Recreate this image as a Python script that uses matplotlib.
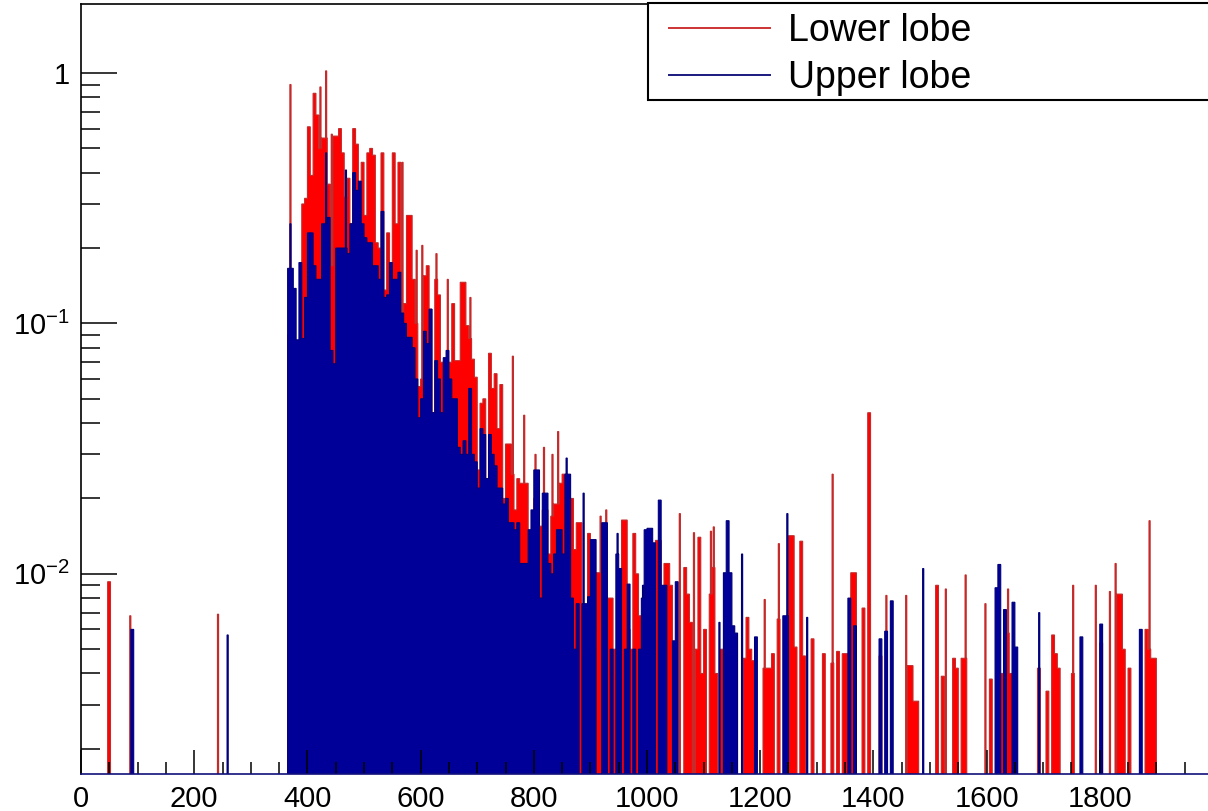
import numpy as np
import matplotlib
matplotlib.use("Agg")
import matplotlib.pyplot as plt
from matplotlib.lines import Line2D
from matplotlib.patches import Rectangle
from matplotlib.ticker import LogLocator, FuncFormatter, MultipleLocator

plt.rcParams['font.family'] = ['Liberation Sans', 'DejaVu Sans']
plt.rcParams['mathtext.fontset'] = 'custom'
plt.rcParams['mathtext.rm'] = 'Liberation Sans'
plt.rcParams['mathtext.default'] = 'regular'

# 5-unit bins starting at x = 365 (the dense part of both lobes)
dense_start = 365
red_dense = [0.09, 0.08, 0.06, 0.05, 0.08, 0.30, 0.316, 0.61, 0.39, 0.83,
             0.68, 0.50, 0.55, 0.55, 0.36, 0.17, 0.56, 0.56, 0.60, 0.48,
             0.32, 0.38, 0.25, 0.60, 0.52, 0.20, 0.44, 0.27, 0.48, 0.50,
             0.47, 0.21, 0.20, 0.48, 0.136, 0.23, 0.14, 0.48, 0.25, 0.44,
             0.11, 0.12, 0.27, 0.27, 0.15, 0.10, 0.056, 0.06, 0.155, 0.17,
             0.114, 0.044, 0.15, 0.13, 0.07, 0.07, 0.06, 0.07, 0.12, 0.071,
             0.071, 0.146, 0.146, 0.098, 0.087, 0.072, 0.061, 0.026, 0.048, 0.05,
             0.024, 0.076, 0.055, 0.063, 0.038, 0.057, 0.02, 0.033, 0.033, 0.025,
             0.018, 0.024, 0.023, 0.023, 0.023, 0.01, 0.01, 0.02, 0.0155, 0.0155,
             0.018, 0.018, 0.012, 0.017, 0.019, 0.019, 0.023, 0.025, 0.025, 0.02,
             0.02, 0.0125, 0.016, 0.016, 0.007, 0.006, 0.0145, 0.005, 0.006, 0.0101,
             0.0101, 0.005, 0.006, 0.008, 0.008, 0.005, 0.004, 0.005, 0.0164, 0.0164,
             0.006, 0.005, 0.0145, 0.01, 0.0068, 0.0067]
blue_dense = [0.166, 0.166, 0.138, 0.086, 0.175, 0.087, 0.127, 0.23, 0.23, 0.17,
              0.15, 0.15, 0.25, 0.25, 0.265, 0.078, 0.069, 0.20, 0.20, 0.20,
              0.20, 0.19, 0.25, 0.40, 0.34, 0.37, 0.25, 0.22, 0.21, 0.21,
              0.17, 0.17, 0.15, 0.28, 0.127, 0.13, 0.175, 0.15, 0.15, 0.16,
              0.11, 0.10, 0.088, 0.088, 0.08, 0.06, 0.042, 0.05, 0.093, 0.083,
              0.114, 0.044, 0.071, 0.06, 0.044, 0.073, 0.078, 0.06, 0.05, 0.05,
              0.032, 0.03, 0.034, 0.03, 0.055, 0.03, 0.028, 0.022, 0.038, 0.036,
              0.024, 0.036, 0.03, 0.027, 0.022, 0.022, 0.019, 0.02, 0.016, 0.016,
              0.015, 0.016, 0.011, 0.011, 0.011, 0.015, 0.018, 0.026, 0.026, 0.008,
              0.021, 0.021, 0.011, 0.010, 0.012, 0.015, 0.015, 0.012, 0.025, 0.025,
              0.008, 0.005, 0.0076, 0.0, 0.0076, 0.0076, 0.0081, 0.0137, 0.0137, 0.0,
              0.0, 0.016, 0.016, 0.0, 0.005, 0.0, 0.012, 0.0105, 0.0, 0.005,
              0.0091, 0.0, 0.005, 0.0, 0.005, 0.008]

# sparse 5-unit bins (left edge, content)
red_tail = [(47, 0.0093), (1000, 0.004), (1015, 0.0136), (1020, 0.0136), (1025, 0.006),
            (1030, 0.011), (1035, 0.011), (1040, 0.009), (1045, 0.004), (1065, 0.0106),
            (1070, 0.0083), (1075, 0.0064), (1085, 0.005), (1090, 0.014), (1095, 0.004),
            (1100, 0.006), (1110, 0.0083), (1115, 0.0106), (1120, 0.004), (1130, 0.005),
            (1145, 0.004), (1170, 0.0046), (1175, 0.0067), (1180, 0.005), (1185, 0.0045),
            (1205, 0.0042), (1210, 0.0042), (1215, 0.0042), (1220, 0.0048), (1230, 0.0066),
            (1250, 0.0142), (1255, 0.0142), (1260, 0.0051), (1270, 0.0135), (1275, 0.0047),
            (1290, 0.0055), (1310, 0.0048), (1325, 0.0044), (1335, 0.0049), (1345, 0.0048),
            (1350, 0.0048), (1360, 0.0101), (1365, 0.0101), (1380, 0.0073), (1390, 0.044),
            (1410, 0.0047), (1460, 0.0043), (1465, 0.0043), (1470, 0.0031), (1475, 0.0031),
            (1510, 0.009), (1520, 0.0039), (1540, 0.0046), (1545, 0.0042), (1555, 0.0046),
            (1560, 0.0046), (1605, 0.0038), (1625, 0.004), (1635, 0.0058), (1640, 0.004),
            (1690, 0.0042), (1705, 0.0034), (1715, 0.0057), (1720, 0.0048), (1725, 0.0042),
            (1750, 0.004), (1800, 0.0053), (1830, 0.0083), (1835, 0.0083), (1840, 0.005),
            (1850, 0.0042), (1880, 0.006), (1885, 0.005), (1890, 0.0046), (1895, 0.0046)]
blue_tail = [(88, 0.006), (995, 0.015), (1000, 0.0152), (1005, 0.0152), (1010, 0.0133),
             (1020, 0.0197), (1025, 0.009), (1030, 0.009), (1045, 0.0054), (1050, 0.0093),
             (1135, 0.0101), (1140, 0.0163), (1145, 0.0101), (1150, 0.0062), (1155, 0.0058),
             (1190, 0.0056), (1240, 0.0068), (1245, 0.0068), (1355, 0.008), (1365, 0.0062),
             (1410, 0.0055), (1420, 0.0059), (1430, 0.0078), (1615, 0.0088), (1620, 0.0109),
             (1630, 0.0072), (1645, 0.0077), (1650, 0.0051), (1765, 0.0056), (1800, 0.0063),
             (1870, 0.006)]

# single narrow bins (2 units)
red_spikes = [(86, 0.0068), (241, 0.0069), (369, 0.90), (422, 0.88), (432, 1.02),
              (442, 0.57), (567, 0.44), (592, 0.196), (602, 0.205), (627, 0.19),
              (647, 0.15), (687, 0.127), (762, 0.074), (782, 0.043), (802, 0.03),
              (817, 0.032), (832, 0.03), (842, 0.037), (917, 0.017), (927, 0.018),
              (1057, 0.0174), (1082, 0.0146), (1112, 0.0148), (1117, 0.0154), (1207, 0.0079),
              (1232, 0.0132), (1327, 0.025), (1422, 0.0082), (1457, 0.0082), (1527, 0.0087),
              (1562, 0.0099), (1597, 0.0076), (1637, 0.0087), (1752, 0.009), (1792, 0.009),
              (1817, 0.0085), (1827, 0.011), (1887, 0.0163)]
blue_spikes = [(258, 0.0057), (369, 0.25), (432, 0.48), (467, 0.41), (857, 0.029),
               (887, 0.021), (947, 0.0145), (992, 0.009), (1127, 0.0064), (1167, 0.012),
               (1247, 0.0174), (1282, 0.0067), (1487, 0.0105), (1692, 0.007)]


def build_hist(dense, tail, spikes):
    h = np.zeros(2000)
    for k, v in enumerate(dense):
        a = dense_start + 5 * k
        h[a:a + 5] = v
    for u, v in tail:
        h[u:u + 5] = np.maximum(h[u:u + 5], v)
    for u, v in spikes:
        h[u:u + 2] = np.maximum(h[u:u + 2], v)
    # empty bins go below the log axis
    return np.where(h > 0, h, 1e-6)


edges = np.arange(0, 2001)
h_low = build_hist(red_dense, red_tail, red_spikes)
h_up = build_hist(blue_dense, blue_tail, blue_spikes)

fig = plt.figure(figsize=(12.08, 8.11), dpi=100)
ax = fig.add_axes([0.0671, 0.0456, 0.937, 0.9494])

ax.stairs(h_low, edges, baseline=1e-6, fill=True, color='#ff0000', lw=0)
ax.stairs(h_low, edges, baseline=1e-6, color='#c42b2b', lw=0.8)
ax.stairs(h_up, edges, baseline=1e-6, fill=True, color='#000099', lw=0)
ax.stairs(h_up, edges, baseline=1e-6, color='#00007a', lw=0.8)

ax.set_yscale('log')
ax.set_xlim(0, 2000)
ax.set_ylim(0.001587, 1.886)

ax.set_xticks(np.arange(0, 1801, 200))
ax.xaxis.set_minor_locator(MultipleLocator(50))
ax.yaxis.set_major_locator(LogLocator(base=10, numticks=10))
ax.yaxis.set_minor_locator(LogLocator(base=10, subs=np.arange(2, 10), numticks=10))


def ylab(v, pos):
    e = int(round(np.log10(v)))
    if e == 0:
        return '1'
    return '$10^{%d}$' % e


ax.yaxis.set_major_formatter(FuncFormatter(ylab))
ax.yaxis.set_minor_formatter(FuncFormatter(lambda v, p: ''))

ax.tick_params(axis='both', which='both', direction='in', width=1.1, colors='black',
               labelsize=21, top=False, right=False)
ax.tick_params(axis='x', which='major', length=17, pad=8)
ax.tick_params(axis='x', which='minor', length=9)
ax.tick_params(axis='y', which='major', length=26, pad=8)
ax.tick_params(axis='y', which='minor', length=14)

for s in ax.spines.values():
    s.set_linewidth(1.2)
ax.spines['bottom'].set_color('#10107a')

# legend box (ROOT style, runs off the right edge)
box = Rectangle((648 / 1208, 1 - 100 / 811), 0.5, 97 / 811, transform=fig.transFigure,
                facecolor='white', edgecolor='black', lw=1.5, clip_on=False, zorder=4)
ax.add_patch(box)

handles = [Line2D([], [], color='#cc3333', lw=1.4),
           Line2D([], [], color='#1a1a80', lw=1.4)]
leg = ax.legend(handles, ['Lower lobe', 'Upper lobe'], loc='upper left',
                bbox_to_anchor=(669 / 1208, 1 - 13 / 811), bbox_transform=fig.transFigure,
                fontsize=27, frameon=False, handlelength=2.7, handletextpad=0.48,
                borderpad=0, labelspacing=0.3, borderaxespad=0)
leg.set_zorder(5)

fig.savefig('out.png', dpi=100)
